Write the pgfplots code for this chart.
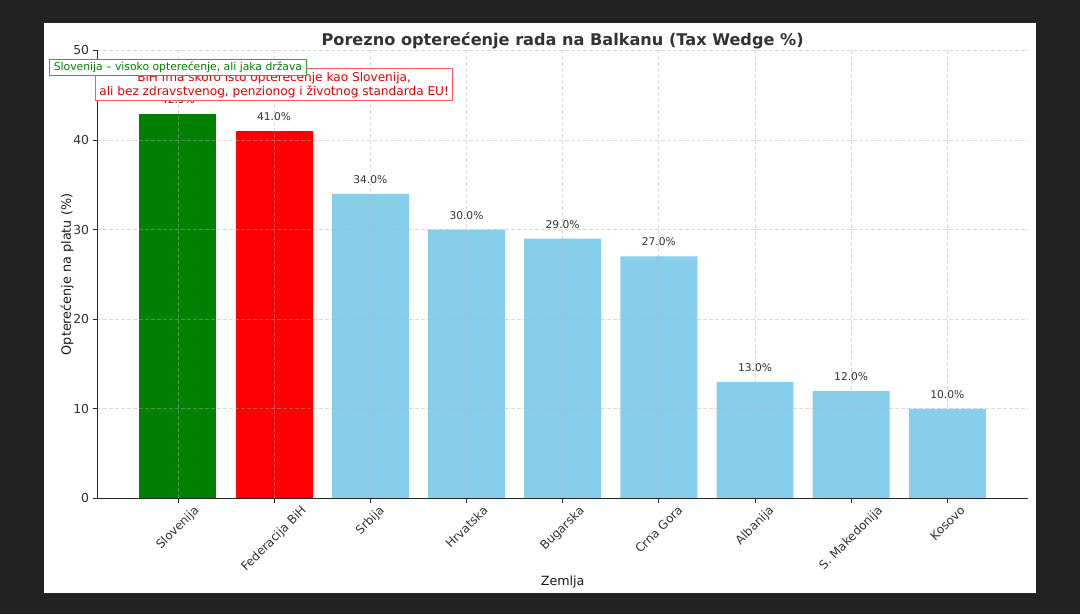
\documentclass[border=0pt]{standalone}
\usepackage{fontspec}
\setmainfont{DejaVu Sans}
\usepackage{graphicx}
\usepackage{pgfplots}
\pgfplotsset{compat=1.18}
\definecolor{bgdark}{HTML}{222222}
\definecolor{skyb}{HTML}{87CEEB}
\definecolor{mplgreen}{HTML}{008000}
\definecolor{mplred}{HTML}{FF0000}
\definecolor{txt}{HTML}{333333}
\definecolor{gridc}{HTML}{B0B0B0}

\pgfplotstableread{
x v
0 42.9
}\sloTable
\pgfplotstableread{
x v
1 41.0
}\bihTable
\pgfplotstableread{
x v
2 34.0
3 30.0
4 29.0
5 27.0
6 13.0
7 12.0
8 10.0
}\restTable

\begin{document}
\begin{tikzpicture}[x=0.75pt,y=0.75pt]
\fill[bgdark] (0,0) rectangle (1080,614);
\fill[white] (44,21) rectangle (1036,591);
\begin{axis}[
  at={(101,129)}, anchor=south west,
  scale only axis, width=698.25pt, height=336pt,
  xmin=-0.84, xmax=8.84, ymin=0, ymax=50,
  xtick={0,...,8},
  xticklabels={\rotatebox{45}{Slovenija},\rotatebox{45}{Federacija BiH},\rotatebox{45}{Srbija},\rotatebox{45}{Hrvatska},\rotatebox{45}{Bugarska},\rotatebox{45}{Crna Gora},\rotatebox{45}{Albanija},\rotatebox{45}{S. Makedonija},\rotatebox{45}{Kosovo}},
  ytick={0,10,...,50},
  axis x line*=bottom, axis y line*=left,
  axis line style={-, black!85, line width=0.75pt},
  tick align=outside, major tick length=3.3pt,
  tick style={black!85, line width=0.6pt},
  xmajorgrids, ymajorgrids,
  grid style={dash pattern=on 3pt off 1.5pt, gridc, line width=0.5pt, opacity=0.45},
  axis on top,
  /pgf/number format/assume math mode=true,
  ticklabel style={font=\fontsize{9.3}{11}\selectfont, text=txt},
  xticklabel style={anchor=north, inner sep=1.2pt, font=\fontsize{9}{11}\selectfont},
  yticklabel style={anchor=east, inner sep=2.5pt},
  title={Porezno opterećenje rada na Balkanu (Tax Wedge \%)},
  title style={at={(rel axis cs:0.5,0.9933)}, anchor=base, font=\bfseries\fontsize{12.1}{14}\selectfont, text=txt, inner sep=0pt},
  xlabel={Zemlja},
  xlabel style={at={(rel axis cs:0.5,-0.194)}, anchor=base, font=\fontsize{9.5}{11}\selectfont, text=black!90, inner sep=0pt},
  ylabel={Opterećenje na platu (\%)},
  ylabel style={at={(rel axis cs:-0.0322,0.5)}, anchor=center, font=\fontsize{9.6}{11}\selectfont, text=black!90, inner sep=0pt},
  clip=false,
]
\addplot[ybar, bar width=0.8, fill=mplgreen, draw=none,
  nodes near coords={\pgfmathprintnumber[fixed, fixed zerofill, precision=1]{\pgfplotspointmeta}\%},
  every node near coord/.append style={anchor=base, yshift=7.9pt, inner sep=0pt, font=\fontsize{8}{9}\selectfont, text=txt}]
  table[x=x, y=v] {\sloTable};
\addplot[ybar, bar width=0.8, fill=mplred, draw=none,
  nodes near coords={\pgfmathprintnumber[fixed, fixed zerofill, precision=1]{\pgfplotspointmeta}\%},
  every node near coord/.append style={anchor=base, yshift=7.9pt, inner sep=0pt, font=\fontsize{8}{9}\selectfont, text=txt}]
  table[x=x, y=v] {\bihTable};
\addplot[ybar, bar width=0.8, fill=skyb, draw=none,
  nodes near coords={\pgfmathprintnumber[fixed, fixed zerofill, precision=1]{\pgfplotspointmeta}\%},
  every node near coord/.append style={anchor=base, yshift=7.9pt, inner sep=0pt, font=\fontsize{8}{9}\selectfont, text=txt}]
  table[x=x, y=v] {\restTable};
\coordinate (gbox) at (axis cs:0,48.1);
\coordinate (rbox) at (axis cs:1,46.15);
\end{axis}
\node[draw=red!65, fill=white, line width=0.75pt, text=red!90!black, font=\fontsize{9.1}{10.5}\selectfont, align=center, inner xsep=2.5pt, inner ysep=2.2pt] at (rbox) {BiH ima skoro isto opterećenje kao Slovenija,\\ali bez zdravstvenog, penzionog i životnog standarda EU!};
\node[draw=mplgreen!75, fill=white, line width=0.75pt, text=mplgreen, font=\fontsize{8.1}{9}\selectfont, inner xsep=3pt, inner ysep=2pt] at (gbox) {Slovenija – visoko opterećenje, ali jaka država};
\end{tikzpicture}
\end{document}
